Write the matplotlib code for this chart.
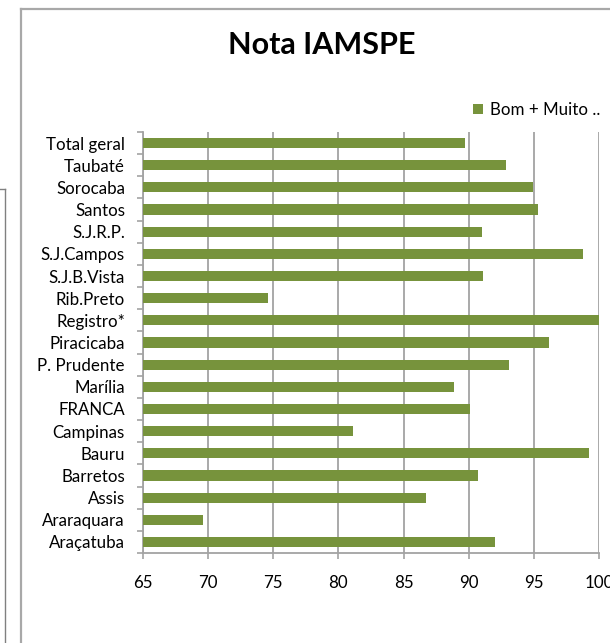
import numpy as np
import matplotlib
matplotlib.use("Agg")
import matplotlib.pyplot as plt
from matplotlib.lines import Line2D

# ---------------- data (bottom to top, Excel order) ----------------
regioes = ["Araçatuba", "Araraquara", "Assis", "Barretos", "Bauru", "Campinas",
           "FRANCA", "Marília", "P. Prudente", "Piracicaba", "Registro*",
           "Rib.Preto", "S.J.B.Vista", "S.J.Campos", "S.J.R.P.", "Santos",
           "Sorocaba", "Taubaté", "Total geral"]
bom_muito_bom = [92.0, 69.6, 86.7, 90.7, 99.2, 81.1,
                 90.1, 88.9, 93.1, 96.2, 100.0,
                 74.6, 91.1, 98.8, 91.0, 95.3,
                 94.9, 92.9, 89.7]
x_ticks = [65, 70, 75, 80, 85, 90, 95, 100]
serie_label = "Bom + Muito .."
titulo = "Nota IAMSPE"

# ---------------- style ----------------
BAR_COLOR = "#77933C"
GRID_COLOR = "#A3A3A3"
FRAME_COLOR = "#A8A8A8"
W, H = 610, 643
FS = 12.2

plt.rcParams["font.family"] = ["Lato", "DejaVu Sans"]

fig = plt.figure(figsize=(W / 100, H / 100), dpi=100)
fig.patch.set_facecolor("white")

# axes placed in pixel terms
left, right, top, bottom = 143, 599, 132, 553
ax = fig.add_axes([left / W, 1 - bottom / H, (right - left) / W, (bottom - top) / H])

y = np.arange(len(regioes))
ax.barh(y, bom_muito_bom, height=0.46, color=BAR_COLOR, label=serie_label, zorder=3)

ax.set_xlim(x_ticks[0], x_ticks[-1])
ax.set_ylim(-0.5, len(regioes) - 0.5)
ax.set_xticks(x_ticks)
ax.set_yticks(y)
ax.set_yticklabels(regioes)
ax.set_yticks(np.arange(-0.5, len(regioes), 1.0), minor=True)

ax.xaxis.grid(True, color=GRID_COLOR, linewidth=1.3, zorder=0)
ax.tick_params(axis="y", which="major", length=0, pad=13, labelsize=FS, labelcolor="black")
ax.tick_params(axis="y", which="minor", length=4, width=1.2, color=GRID_COLOR)
ax.tick_params(axis="x", which="major", length=4, width=1.2, color=GRID_COLOR,
               pad=12, labelsize=FS, labelcolor="black")

for side in ["top", "right"]:
    ax.spines[side].set_visible(False)
for side in ["left", "bottom"]:
    ax.spines[side].set_color(GRID_COLOR)
    ax.spines[side].set_linewidth(1.3)

ax.legend(loc="upper right", bbox_to_anchor=(600 / W, 1 - 102 / H),
          bbox_transform=fig.transFigure, frameon=False, fontsize=FS,
          handlelength=0.6, handleheight=0.6, handletextpad=0.4,
          borderpad=0, borderaxespad=0)

fig.text(322 / W, 1 - 45 / H, titulo, ha="center", va="center",
         fontsize=22, fontweight="bold")

# chart frame and the window border behind it
fig.add_artist(Line2D([21 / W, 21 / W], [0, 1 - 9 / H], color=FRAME_COLOR, lw=1.6))
fig.add_artist(Line2D([21 / W, 1], [1 - 9 / H, 1 - 9 / H], color=FRAME_COLOR, lw=1.6))
fig.add_artist(Line2D([5 / W, 5 / W], [0, 1 - 189 / H], color="#808080", lw=1.0))
fig.add_artist(Line2D([0, 5 / W], [1 - 189 / H, 1 - 189 / H], color="#808080", lw=1.0))

fig.savefig("out.png", dpi=100)
